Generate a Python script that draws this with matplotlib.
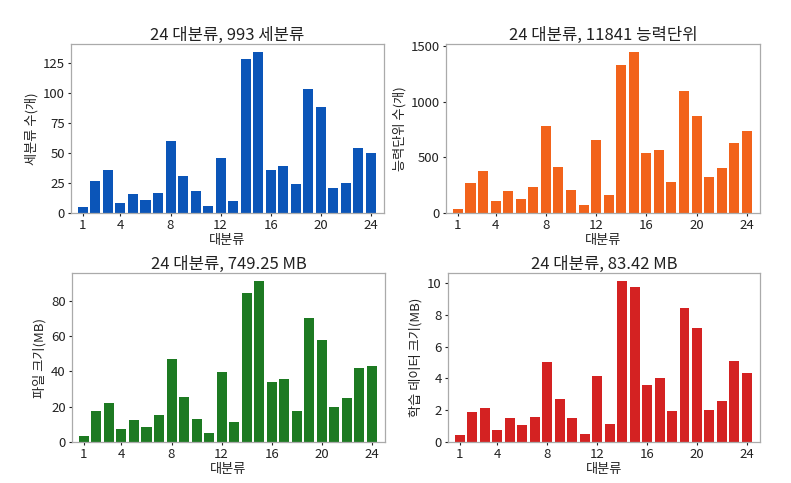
import numpy as np
import matplotlib
matplotlib.use('Agg')
import matplotlib.pyplot as plt

plt.rcParams['font.family'] = ['Noto Sans CJK KR', 'DejaVu Sans']

cats = np.arange(1, 25)
xticks = [1, 4, 8, 12, 16, 20, 24]

n_sub = [5, 27, 36, 8, 16, 11, 17, 60, 31, 18, 6, 46,
         10, 128, 134, 36, 39, 24, 103, 88, 21, 25, 54, 50]
n_unit = [40, 268, 379, 108, 199, 127, 235, 777, 410, 208, 75, 651,
          163, 1325, 1445, 536, 563, 274, 1099, 873, 319, 400, 632, 735]
file_mb = [3.4, 17.3, 22.1, 7.5, 12.7, 8.6, 15.4, 46.9, 25.7, 13.3, 5.2, 39.5,
           11.4, 84.4, 91.2, 33.8, 35.5, 17.5, 70.1, 57.6, 19.7, 25.0, 42.2, 43.3]
train_mb = [0.42, 1.90, 2.16, 0.73, 1.50, 1.04, 1.57, 5.06, 2.69, 1.50, 0.52, 4.18,
            1.15, 10.12, 9.75, 3.56, 4.02, 1.98, 8.40, 7.17, 2.02, 2.56, 5.10, 4.33]

panels = [
    (n_sub, '#0b55b8', '24 대분류, 993 세분류', '세분류 수(개)',
     [0, 25, 50, 75, 100, 125]),
    (n_unit, '#f2631b', '24 대분류, 11841 능력단위', '능력단위 수(개)',
     [0, 500, 1000, 1500]),
    (file_mb, '#1d7a22', '24 대분류, 749.25 MB', '파일 크기(MB)',
     [0, 20, 40, 60, 80]),
    (train_mb, '#d42222', '24 대분류, 83.42 MB', '학습 데이터 크기(MB)',
     [0, 2, 4, 6, 8, 10]),
]

fig = plt.figure(figsize=(7.91, 4.83), dpi=100)
fig.patch.set_facecolor('white')
W, H = 791, 483
boxes = [(71, 44, 384, 213), (446, 44, 760, 213),
         (72, 273, 385, 442), (448, 273, 760, 442)]

for (vals, col, title, ylab, yt), (l, t, r, b) in zip(panels, boxes):
    ax = fig.add_axes([l / W, 1 - b / H, (r - l) / W, (b - t) / H])
    ax.bar(cats, vals, width=0.8, color=col)
    ax.set_xlim(0.05, 25.05)
    ax.set_xticks(xticks)
    ax.set_yticks(yt)
    ax.set_title(title, fontsize=12, pad=2, color='#222222')
    ax.set_xlabel('대분류', fontsize=9.5, labelpad=1, color='#222222')
    ax.set_ylabel(ylab, fontsize=9.5, labelpad=3, color='#222222')
    ax.tick_params(labelsize=9.5, length=2.5, pad=2, colors='#222222')
    for s in ax.spines.values():
        s.set_color('#aaaaaa')
        s.set_linewidth(0.9)

plt.savefig('out.png', dpi=100)
